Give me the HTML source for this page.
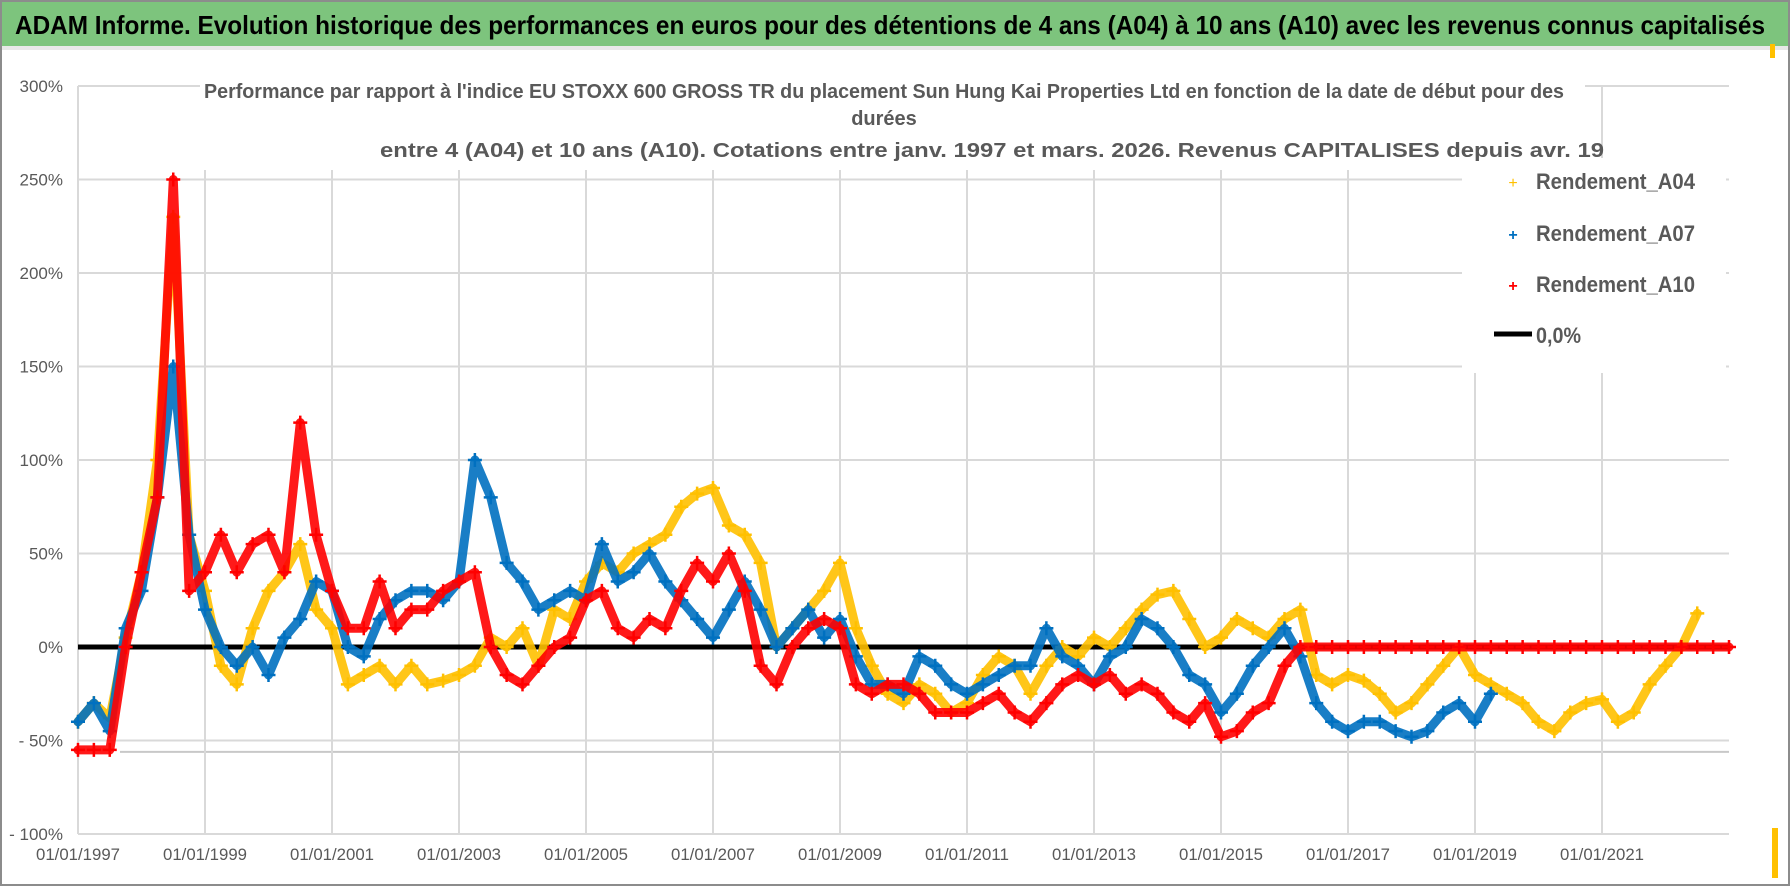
<!DOCTYPE html>
<html><head><meta charset="utf-8"><style>
html,body{margin:0;padding:0;background:#fff;}
svg{display:block;font-family:"Liberation Sans Narrow","Liberation Sans",sans-serif;}
</style></head><body>
<svg id="chart" width="1790" height="886" viewBox="0 0 1790 886" xmlns="http://www.w3.org/2000/svg">
<rect x="0" y="0" width="1790" height="886" fill="#fff"/>
<rect x="1" y="1" width="1788" height="884" fill="none" stroke="#8c8c8c" stroke-width="2"/>
<rect x="2" y="2" width="1786" height="44" fill="#7dc47d"/>
<rect x="2" y="46" width="1786" height="4" fill="#e8e8e8"/>
<text x="15" y="34" font-size="26" font-weight="bold" fill="#000" textLength="1750" lengthAdjust="spacingAndGlyphs">ADAM Informe. Evolution historique des performances en euros pour des détentions de 4 ans (A04) à 10 ans (A10) avec les revenus connus capitalisés</text>
<g id="grid"></g>
<g id="axes"></g>
<g id="series"></g>
<rect x="200" y="58" width="1385" height="112" fill="#fff"/>
<rect x="1462" y="158" width="264" height="215" fill="#fff"/>
<g font-size="20" font-weight="bold" fill="#595959">
<text x="204" y="98" textLength="1360" lengthAdjust="spacingAndGlyphs">Performance par rapport à l'indice EU STOXX 600 GROSS TR  du placement Sun Hung Kai Properties Ltd en fonction de la date de début pour des</text>
<text x="884" y="125" text-anchor="middle">durées</text>
<text x="380" y="157" textLength="1224" lengthAdjust="spacingAndGlyphs">entre 4 (A04) et 10 ans (A10).  Cotations entre janv. 1997 et mars. 2026. Revenus CAPITALISES depuis avr. 19</text>
</g>
<g font-size="22" font-weight="bold" fill="#595959">
<g><text x="1513" y="188" font-size="16" fill="#ffc000" text-anchor="middle" font-weight="normal">+</text><text x="1536" y="189" textLength="159" lengthAdjust="spacingAndGlyphs">Rendement_A04</text></g>
<g><text x="1513" y="240" font-size="16" fill="#0070c0" text-anchor="middle">+</text><text x="1536" y="241" textLength="159" lengthAdjust="spacingAndGlyphs">Rendement_A07</text></g>
<g><text x="1513" y="291" font-size="16" fill="#ff0000" text-anchor="middle">+</text><text x="1536" y="292" textLength="159" lengthAdjust="spacingAndGlyphs">Rendement_A10</text></g>
<g><line x1="1494" y1="334" x2="1532" y2="334" stroke="#000" stroke-width="5"/><text x="1536" y="343" textLength="45" lengthAdjust="spacingAndGlyphs">0,0%</text></g>
</g>
<rect x="1770" y="44" width="5" height="14" fill="#ffc000"/>
<rect x="1772" y="828" width="6" height="50" fill="#ffc000"/>
</svg>
<script>
const yTicks = [300, 250, 200, 150, 100, 50, 0, -50, -100];
const yTickLabels = ["300%", "250%", "200%", "150%", "100%", "50%", "0%", "- 50%", "- 100%"];
const xTickYears = [1997, 1999, 2001, 2003, 2005, 2007, 2009, 2011, 2013, 2015, 2017, 2019, 2021];
const xTickLabels = ["01/01/1997","01/01/1999","01/01/2001","01/01/2003","01/01/2005","01/01/2007","01/01/2009","01/01/2011","01/01/2013","01/01/2015","01/01/2017","01/01/2019","01/01/2021"];
const seriesStart = 1997.0;
const seriesStep = 0.25;
const a04Values = [-40,-30,-38,5, 40,100,230,60, 30,-10,-20,10, 30,40,55,20, 10,-20,-15,-10, -20,-10,-20,-18, -15,-10,5,0, 10,-10,20,15, 35,45,40,50, 55,60,75,82, 85,65,60,45, 0,10,20,30, 45,10,-10,-25, -30,-20,-25,-35, -30,-15,-5,-10, -25,-10,0,-5, 5,0,10,20, 28,30,15,0, 5,15,10,5, 15,20,-15,-20, -15,-18,-25,-35, -30,-20,-10,0, -15,-20,-25,-30, -40,-45,-35,-30, -28,-40,-35,-20, -10,0,18];
const a07Values = [-40,-30,-45,10, 30,80,150,60, 20,0,-10,0, -15,5,15,35, 30,0,-5,15, 25,30,30,25, 35,100,80,45, 35,20,25,30, 25,55,35,40, 50,35,25,15, 5,20,35,20, 0,10,20,5, 15,-5,-20,-20, -25,-5,-10,-20, -25,-20,-15,-10, -10,10,-5,-10, -20,-5,0,15, 10,0,-15,-20, -35,-25,-10,0, 10,-5,-30,-40, -45,-40,-40,-45, -48,-45,-35,-30, -40,-25];
const a10Values = [-55,-55,-55,0, 40,80,250,30, 40,60,40,55, 60,40,120,60, 30,10,10,35, 10,20,20,30, 35,40,0,-15, -20,-10,0,5, 25,30,10,5, 15,10,30,45, 35,50,30,-10, -20,0,10,15, 10,-20,-25,-20, -20,-25,-35,-35, -35,-30,-25,-35, -40,-30,-20,-15, -20,-15,-25,-20, -25,-35,-40,-30, -48,-45,-35,-30, -10,0,0,0, 0,0,0,0, 0,0,0,0, 0,0,0,0, 0,0,0,0, 0,0,0,0, 0,0,0,0, 0];
const zeroLineValue = 0;

const NS = "http://www.w3.org/2000/svg";
const X0 = 78, PXYR = 63.5, XEND = 1729;
const Y0 = 647, PXPCT = 1.87;
function xScale(yr){ return X0 + (yr - 1997) * PXYR; }
function yScale(p){ return Y0 - p * PXPCT; }
function mk(tag, attrs, parent){ const e = document.createElementNS(NS, tag); for (const k in attrs) e.setAttribute(k, attrs[k]); parent.appendChild(e); return e; }

const grid = document.getElementById('grid');
const axes = document.getElementById('axes');
const series = document.getElementById('series');

yTicks.forEach((v, i) => {
  const l = mk('line', {x1: X0, x2: XEND, y1: yScale(v), y2: yScale(v), stroke: '#d9d9d9', 'stroke-width': 2}, grid);
  
  
  const t = mk('text', {x: 63, y: yScale(v) + 6, 'text-anchor': 'end', 'font-size': 17, fill: '#595959'}, axes);
  t.textContent = yTickLabels[i];
  
  
});
const extra = mk('line', {x1: 120, x2: XEND, y1: yScale(-55) + 2, y2: yScale(-55) + 2, stroke: '#c8c8c8', 'stroke-width': 2}, grid);


xTickYears.forEach((yr, i) => {
  const l = mk('line', {x1: xScale(yr), x2: xScale(yr), y1: yScale(300), y2: yScale(-100), stroke: '#d9d9d9', 'stroke-width': 2}, grid);
  
  
  const t = mk('text', {x: xScale(yr), y: 860, 'text-anchor': 'middle', 'font-size': 17, fill: '#595959', textLength: 84, lengthAdjust: 'spacingAndGlyphs'}, axes);
  t.textContent = xTickLabels[i];
  
  
});

const zl = mk('line', {x1: xScale(1997), x2: XEND, y1: yScale(zeroLineValue), y2: yScale(zeroLineValue), stroke: '#000', 'stroke-width': 5}, series);



function drawSeries(vals, color, name){
  const g = mk('g', {}, series);
  
  
  const pts = vals.map((v, i) => xScale(seriesStart + i * seriesStep).toFixed(1) + ',' + yScale(v).toFixed(1)).join(' ');
  const pl = mk('polyline', {points: pts, fill: 'none', stroke: color, 'stroke-width': 9, 'stroke-linejoin': 'round', 'stroke-linecap': 'round', opacity: 0.9}, g);
  
  
  vals.forEach((v, i) => {
    const x = xScale(seriesStart + i * seriesStep), y = yScale(v);
    const p = mk('path', {d: `M${x-7},${y}H${x+7}M${x},${y-7}V${y+7}`, stroke: color, 'stroke-width': 2.5}, g);
    
    
  });
}
drawSeries(a04Values, '#ffc000', 'series-a04');
drawSeries(a07Values, '#0070c0', 'series-a07');
drawSeries(a10Values, '#ff0000', 'series-a10');
</script>
</body></html>
